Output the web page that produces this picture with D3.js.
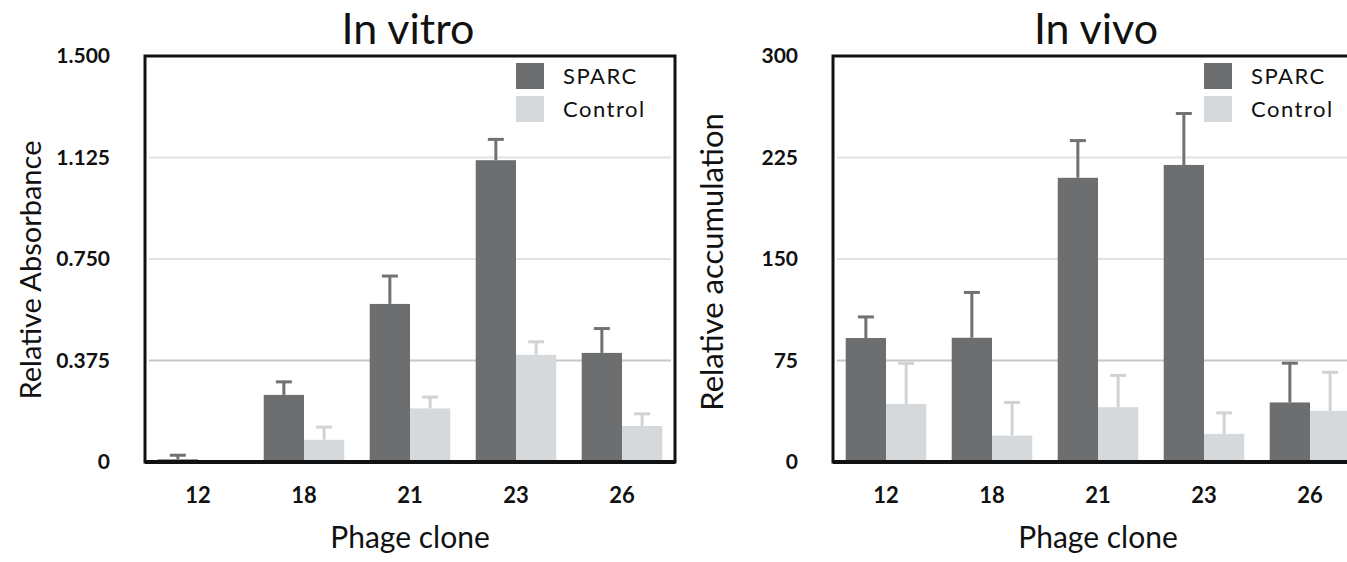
<!DOCTYPE html>
<html>
<head>
<meta charset="utf-8">
<script src="https://cdn.jsdelivr.net/npm/d3@7"></script>
<style>
  body { margin: 0; background: #fff; overflow: hidden; }
  text { font-family: Lato, "Open Sans", sans-serif; fill: #111; }
</style>
</head>
<body>
<svg width="1347" height="562"></svg>
<script>
var svg = d3.select('svg');

// categories (phage clones)
var clones = ["12", "18", "21", "23", "26"];
var seriesNames = ["SPARC", "Control"];

// In vitro: relative absorbance, bar heights and upper error
var vitroSparc = [0.010, 0.248, 0.584, 1.115, 0.403];
var vitroSparcErr = [0.015, 0.048, 0.103, 0.077, 0.090];
var vitroControl = [0, 0.082, 0.198, 0.396, 0.133];
var vitroControlErr = [0, 0.047, 0.042, 0.048, 0.045];
var vitroTicks = [0, 0.375, 0.75, 1.125, 1.5];
var vitroTickLabels = ["0", "0.375", "0.750", "1.125", "1.500"];

// In vivo: relative accumulation
var vivoSparc = [91.6, 91.8, 210, 219.5, 44];
var vivoSparcErr = [15.6, 33.5, 27.5, 38, 29];
var vivoControl = [42.9, 19.5, 40.5, 20.8, 37.8];
var vivoControlErr = [30, 24.5, 23.5, 15.5, 28.5];
var vivoTicks = [0, 75, 150, 225, 300];
var vivoTickLabels = ["0", "75", "150", "225", "300"];

var colors = {SPARC: "#6d6e6f", Control: "#d6d9db"};
var errColors = {SPARC: "#707172", Control: "#d0d3d5"};

function drawPanel(p){
  var left = p.x0, right = p.x0 + 530, top = 56, bottom = 462;
  var g = svg.append('g');

  var x = d3.scaleBand().domain(clones).range([left, right])
    .paddingInner(0.24).paddingOuter(0.12);
  var x1 = d3.scaleBand().domain(seriesNames).range([0, x.bandwidth()]);
  var y = d3.scaleLinear().domain([0, p.ticks[p.ticks.length - 1]]).range([bottom, top]);

  // gridlines
  g.selectAll('line.grid').data(p.ticks.slice(1, -1)).enter().append('line')
    .attr('x1', left + 4).attr('x2', right - 4)
    .attr('y1', d => y(d)).attr('y2', d => y(d))
    .attr('stroke', (d, i) => i == 0 ? "#c6c6c6" : "#e2e2e2")
    .attr('stroke-width', 2);

  // y tick labels
  g.selectAll('text.tick').data(p.ticks).enter().append('text')
    .attr('x', p.x0 - 35).attr('y', d => y(d))
    .attr('dy', '0.35em').attr('text-anchor', 'end')
    .style('font-size', '21px').style('font-weight', 'bold')
    .text((d, i) => p.tickLabels[i]);

  var rows = clones.map((c, i) => ({
    clone: c,
    values: [
      {key: "SPARC", v: p.sparc[i], e: p.sparcErr[i]},
      {key: "Control", v: p.control[i], e: p.controlErr[i]}
    ]
  }));

  var groups = g.selectAll('g.grp').data(rows).enter().append('g')
    .attr('transform', d => 'translate(' + x(d.clone) + ',0)');

  // error bars (upper only)
  var eb = groups.selectAll('g.err').data(d => d.values.filter(v => v.e > 0)).enter().append('g');
  eb.append('line')
    .attr('x1', d => x1(d.key) + x1.bandwidth() / 2)
    .attr('x2', d => x1(d.key) + x1.bandwidth() / 2)
    .attr('y1', d => y(d.v)).attr('y2', d => y(d.v + d.e))
    .attr('stroke', d => errColors[d.key]).attr('stroke-width', 3);
  eb.append('line')
    .attr('x1', d => x1(d.key) + x1.bandwidth() / 2 - 8)
    .attr('x2', d => x1(d.key) + x1.bandwidth() / 2 + 8)
    .attr('y1', d => y(d.v + d.e)).attr('y2', d => y(d.v + d.e))
    .attr('stroke', d => errColors[d.key]).attr('stroke-width', 3);

  groups.selectAll('rect').data(d => d.values).enter().append('rect')
    .attr('x', d => x1(d.key)).attr('width', x1.bandwidth())
    .attr('y', d => y(d.v)).attr('height', d => bottom - y(d.v))
    .attr('fill', d => colors[d.key]);

  // frame
  g.append('rect')
    .attr('x', left).attr('y', top).attr('width', right - left).attr('height', bottom - top)
    .attr('fill', 'none').attr('stroke', '#111').attr('stroke-width', 3);
  g.append('line').attr('x1', left).attr('x2', right).attr('y1', bottom).attr('y2', bottom)
    .attr('stroke', '#111').attr('stroke-width', 4);

  // x tick labels
  g.selectAll('text.xt').data(clones).enter().append('text')
    .attr('x', d => x(d) + x.bandwidth() / 2).attr('y', 503)
    .attr('text-anchor', 'middle')
    .style('font-size', '22px').style('font-weight', 'bold')
    .text(d => d);

  // legend
  var lg = g.append('g').attr('transform', 'translate(' + (p.x0 + 371) + ',63)');
  seriesNames.forEach((s, i) => {
    lg.append('rect').attr('x', 0).attr('y', i * 33).attr('width', 28).attr('height', 26)
      .attr('fill', colors[s]);
    lg.append('text').attr('x', 47).attr('y', i * 33 + 13).attr('dy', '0.35em')
      .style('font-size', '22px').style('letter-spacing', '1.5px').text(s);
  });

  // titles
  g.append('text').attr('x', p.x0 + 263).attr('y', 44).attr('text-anchor', 'middle')
    .style('font-size', '43px').text(p.title);
  g.append('text').attr('x', p.x0 + 265).attr('y', 548).attr('text-anchor', 'middle')
    .style('font-size', '30px').text("Phage clone");
  g.append('text')
    .attr('transform', 'translate(' + (p.x0 - p.yLabelDx) + ',' + p.yLabelY + ') rotate(-90)')
    .attr('text-anchor', 'middle')
    .style('font-size', p.yLabelSize).text(p.yLabel);
}

drawPanel({
  x0: 145, title: "In vitro", yLabel: "Relative Absorbance", yLabelY: 270, yLabelSize: '29px', yLabelDx: 104,
  ticks: vitroTicks, tickLabels: vitroTickLabels,
  sparc: vitroSparc, sparcErr: vitroSparcErr, control: vitroControl, controlErr: vitroControlErr
});
drawPanel({
  x0: 833, title: "In vivo", yLabel: "Relative accumulation", yLabelY: 262, yLabelSize: '31px', yLabelDx: 110,
  ticks: vivoTicks, tickLabels: vivoTickLabels,
  sparc: vivoSparc, sparcErr: vivoSparcErr, control: vivoControl, controlErr: vivoControlErr
});
</script>
</body>
</html>
